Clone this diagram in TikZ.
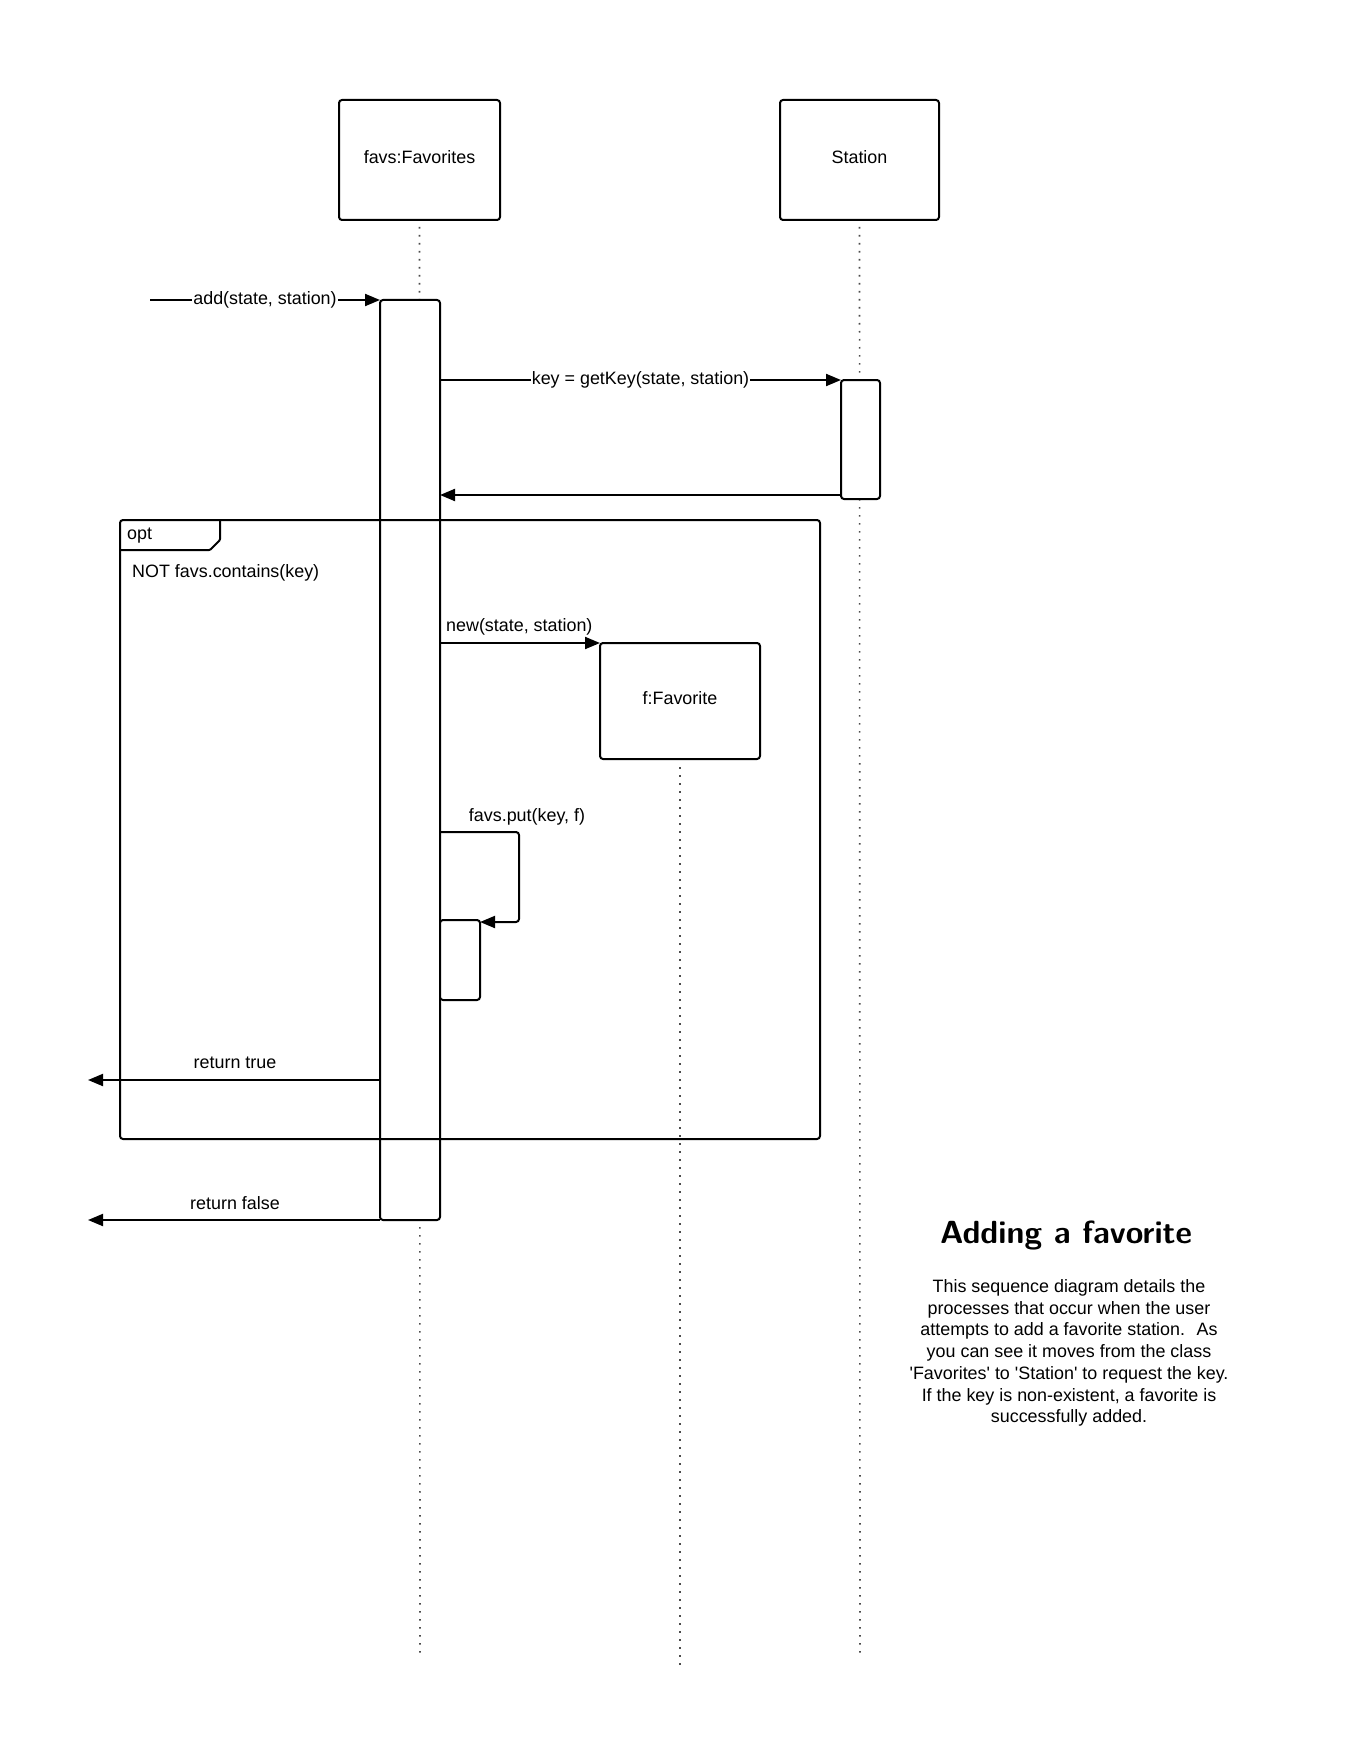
\documentclass[tikz,border=0pt]{standalone}
\usepackage{fontspec}
\setmainfont{Liberation Sans}
\usetikzlibrary{arrows.meta}
\newcommand\lblfont{\fontsize{17.9}{21.7}\selectfont}
\begin{document}
\begin{tikzpicture}[x=1pt,y=-1pt,
  obj/.style={draw, line width=2pt, rounded corners=3pt, inner sep=0pt,
    outer sep=0pt, font=\lblfont, fill=white, text height=12.5pt, text depth=5.5pt},
  act/.style={draw, fill=white, line width=2pt, rounded corners=3pt,
    inner sep=0pt, outer sep=0pt, anchor=north west},
  life/.style={line width=1.6pt, black!70, dash pattern=on 1.6pt off 6.4pt},
  msg/.style={line width=2pt, -{Triangle[length=15pt,width=12pt]}},
  lbl/.style={font=\lblfont, inner sep=1pt},
  onlbl/.style={font=\lblfont, inner sep=1pt, fill=white}]
\useasboundingbox (0,0) rectangle (1360,1760);

% participants
\node[obj, minimum width=161pt, minimum height=120pt] (favs) at (419.5,160) {favs:Favorites};
\node[obj, minimum width=159pt, minimum height=120pt] (station) at (859.5,160) {Station};

% lifelines
\coordinate (favsend) at (420,1653);
\coordinate (stationend) at (860,1653);
\coordinate (favend) at (680,1665);
\draw[life] ([yshift=-7pt]favs.south) -- (favsend);
\draw[life] ([yshift=-7pt]station.south) -- (stationend);

% activation bars
\node[act, minimum width=60pt, minimum height=920pt] (a1) at (380,300) {};
\node[act, minimum width=39pt, minimum height=119pt] (a2) at (841,380) {};

% created object and its lifeline
\node[obj, minimum width=160pt, minimum height=116pt] (fav) at (680,701) {f:Favorite};
\draw[life] ([yshift=-8pt]fav.south) -- (favend);

% nested activation for the self call
\node[act, minimum width=40pt, minimum height=80pt] (a3) at (440,920) {};

% combined fragment
\node[draw, line width=2pt, rounded corners=3pt, inner sep=0pt, outer sep=0pt,
  anchor=north west, minimum width=700pt, minimum height=619pt] (opt) at (120,520) {};
\draw[line width=2pt, rounded corners=1pt] (opt.north west) ++(0,30) -- (210,550) -- (220,540) -- (220,520);
\node[lbl, anchor=west] (optlbl) at (126,535.5) {opt};
\node[lbl, anchor=west] (guard) at (131,572.5) {NOT favs.contains(key)};

% incoming call
\coordinate (caller) at (150,300);
\draw[msg] (caller) -- (a1.north west)
  node[onlbl, midway] (addlbl) {add(state, station)};

% call to Station and its return
\coordinate (gk) at (440,380);
\draw[msg] (gk) -- (a2.north west)
  node[onlbl, midway] (gklbl) {key = getKey(state, station)};
\coordinate (ret) at (841,495);
\draw[msg] (ret) -- (ret -| a1.east);

% creation message
\draw[msg] (fav.north west -| a1.east) -- (fav.north west);
\node[lbl, anchor=west] (newlbl) at (445,627) {new(state, station)};

% self call
\coordinate (putstart) at (440,832);
\coordinate (putend) at (480,922);
\draw[msg, rounded corners=3pt] (putstart) -- (519,832) -- (519,922) -- (putend);
\node[lbl] (putlbl) at (527,817) {favs.put(key, f)};

% returns
\coordinate (rtstart) at (380,1080);
\coordinate (rtend) at (88,1080);
\draw[msg] (rtstart) -- (rtend);
\node[lbl] (rtlbl) at (235,1063) {return true};
\coordinate (rfend) at (88,1220);
\draw[msg] (a1.south west) -- (rfend);
\node[lbl] (rflbl) at (235,1203) {return false};

% description
\node[font=\sffamily\bfseries\fontsize{32}{38}\selectfont] (title) at (1066,1236) {Adding a favorite};
\node[lbl, align=center] (desc) at (1069,1353) {This sequence diagram details the\\
processes that occur when the user\\
attempts to add a favorite station.~ As\\
you can see it moves from the class\\
\textquotesingle Favorites\textquotesingle\ to \textquotesingle Station\textquotesingle\ to request the key.\\
If the key is non-existent, a favorite is\\
successfully added.};
\end{tikzpicture}
\end{document}
